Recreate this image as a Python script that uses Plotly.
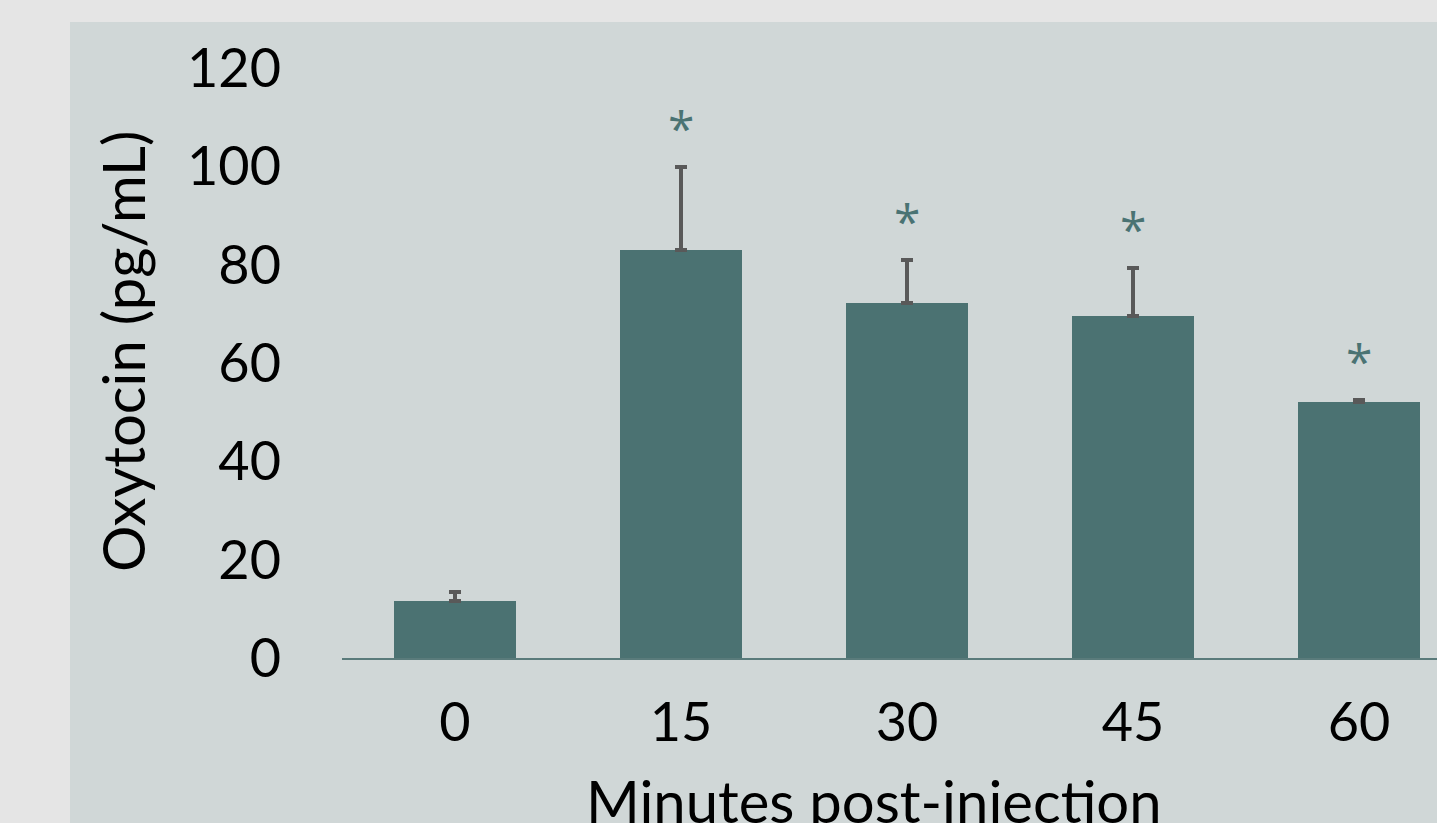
import plotly.graph_objects as go

categories = ["0", "15", "30", "45", "60"]
oxytocin_mean = [11.6, 83.0, 72.2, 69.6, 52.1]
oxytocin_err = [1.8, 16.9, 8.7, 9.7, 0.3]
significant = [False, True, True, True, True]
y_ticks = [0, 20, 40, 60, 80, 100, 120]

W, H = 1437, 823
L, R, T, B = 342, 0, 68, 165
pw, ph = W - L - R, H - T - B

FONT = "Lato, 'Open Sans', sans-serif"
TEAL = "#4b7272"

x_idx = list(range(len(categories)))

fig = go.Figure()
fig.add_trace(go.Bar(
    x=x_idx, y=oxytocin_mean, width=0.544,
    marker=dict(color=TEAL, line=dict(width=0)),
    error_y=dict(type="data", array=oxytocin_err, arrayminus=[0]*5,
                 symmetric=False, color="#595959", thickness=4, width=6),
    hoverinfo="skip",
))

annotations = []
for i, (m, e, s) in enumerate(zip(oxytocin_mean, oxytocin_err, significant)):
    if s:
        annotations.append(dict(x=i, y=m + e, xref="x", yref="y", text="*",
                                showarrow=False, yanchor="bottom", yshift=5,
                                font=dict(family="'Open Sans', sans-serif", size=48, color="#4a7373")))

annotations.append(dict(x=(122 - L) / pw, y=(658 - 352) / ph, xref="paper", yref="paper",
                        text="Oxytocin (pg/mL)", textangle=-90, showarrow=False,
                        xanchor="center", yanchor="middle",
                        font=dict(family=FONT, size=58, color="#000000")))
annotations.append(dict(x=(874 - L) / pw, y=-(800 - 658) / ph, xref="paper", yref="paper",
                        text="Minutes post-injection", showarrow=False,
                        xanchor="center", yanchor="middle",
                        font=dict(family=FONT, size=58, color="#000000")))

fig.update_layout(
    width=W, height=H,
    margin=dict(l=L, r=R, t=T, b=B, pad=0),
    paper_bgcolor="#e5e5e5",
    plot_bgcolor="#d0d7d7",
    showlegend=False,
    bargap=0,
    annotations=annotations,
    shapes=[dict(type="rect", xref="paper", yref="paper", layer="below",
                 x0=(70 - L) / pw, x1=1.05, y0=-(B + 10) / ph, y1=(658 - 22) / ph,
                 fillcolor="#d0d7d7", line=dict(width=0))],
    xaxis=dict(range=[-0.5, -0.5 + pw / 226.0],
               tickvals=x_idx, ticktext=categories,
               showgrid=False, zeroline=False,
               showline=True, linecolor="#5a7b7b", linewidth=2,
               ticks="", ticklabelstandoff=16,
               tickfont=dict(family=FONT, size=54, color="#000000")),
    yaxis=dict(range=[0, 120], tickvals=y_ticks,
               showgrid=False, zeroline=False, showline=False,
               ticks="", ticklabelstandoff=60,
               tickfont=dict(family=FONT, size=54, color="#000000")),
)

fig.write_html("out.html", config={"displayModeBar": False},
               post_script="document.body.style.margin='0';document.body.style.overflow='hidden';")
